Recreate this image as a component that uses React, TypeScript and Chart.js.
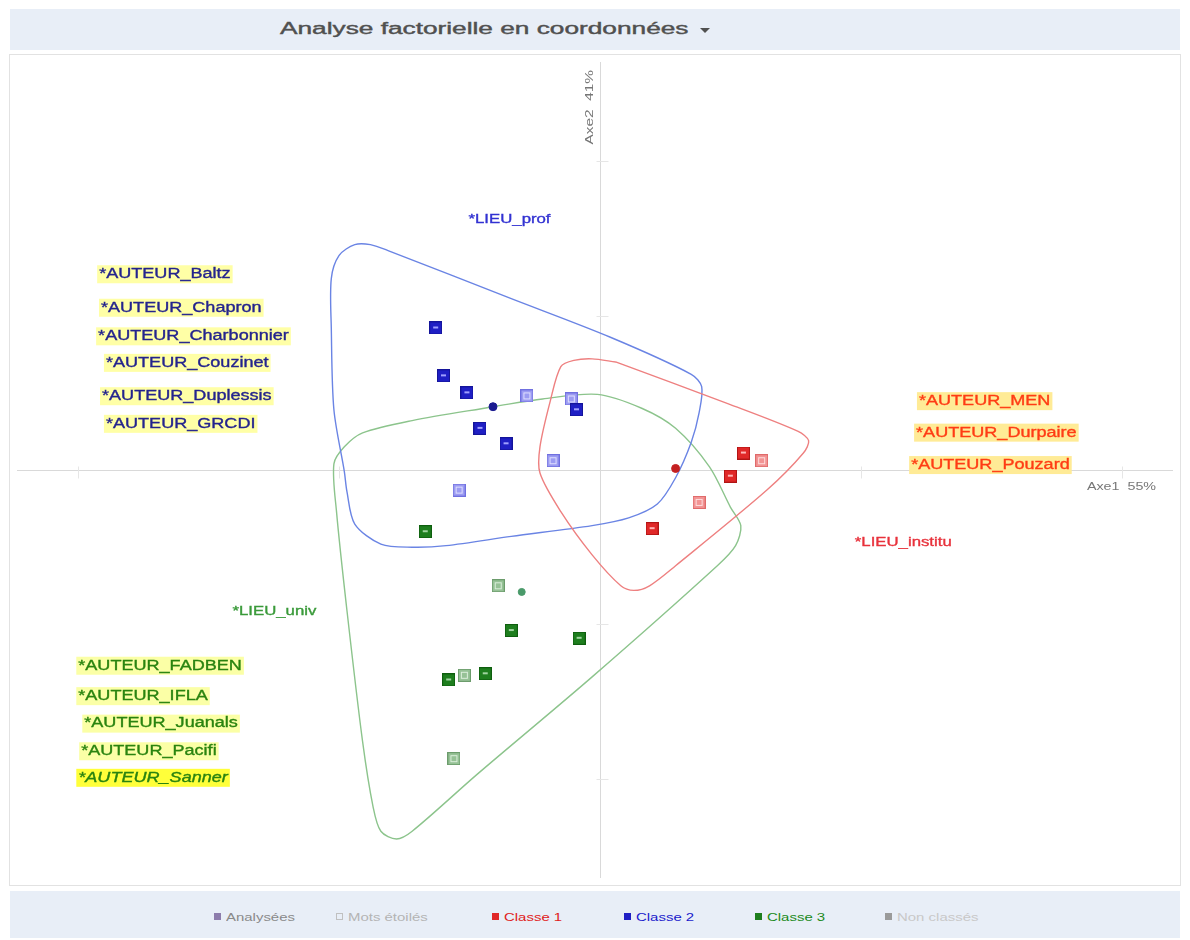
import React, { useEffect, useRef } from "react";
import { Chart, registerables } from "chart.js";

Chart.register(...registerables);

// ---- Axis extents (factor units) ----
const X_MIN = -2.235;
const X_MAX = 2.197;
const Y_MIN = -2.643;
const Y_MAX = 2.643;
const xTicks = [-2, -1, 1, 2];
const yTicks = [-2, -1, 1, 2];
const axisTitles = ["Axe1  55%", "Axe2  41%"];
const axisTitleX = [1.867, -0.038];
const axisTitleY = [-0.108, 2.35];

// ---- Classe 1 (red) ----
const c1DarkX = [0.55, 0.5, 0.2];
const c1DarkY = [0.11, -0.04, -0.38];
const c1LightX = [0.62, 0.38];
const c1LightY = [0.06, -0.21];
const c1Centre = [0.29, 0.01];

// ---- Classe 2 (blue) ----
const c2DarkX = [-0.63, -0.6, -0.51, -0.46, -0.36, -0.09];
const c2DarkY = [0.92, 0.61, 0.5, 0.27, 0.17, 0.39];
const c2LightX = [-0.28, -0.11, -0.18, -0.54];
const c2LightY = [0.48, 0.46, 0.06, -0.13];
const c2Centre = [-0.41, 0.41];

// ---- Classe 3 (green) ----
const c3DarkX = [-0.67, -0.34, -0.08, -0.44, -0.58];
const c3DarkY = [-0.4, -1.04, -1.09, -1.32, -1.36];
const c3LightX = [-0.39, -0.52, -0.56];
const c3LightY = [-0.75, -1.33, -1.87];
const c3Centre = [-0.3, -0.79];

// ---- Hulls ----
const hull1X = [0.06, 0.49, 0.76, 0.8, 0.78, 0.64, 0.29, 0.19, 0.13, 0.08, -0.03, -0.15, -0.23, -0.23, -0.19, -0.15, -0.1, -0.03, 0.06];
const hull1Y = [0.7, 0.43, 0.25, 0.19, 0.11, -0.13, -0.62, -0.75, -0.78, -0.75, -0.55, -0.27, -0.02, 0.15, 0.45, 0.67, 0.71, 0.72, 0.7];
const hull2X = [-0.34, 0.04, 0.35, 0.39, 0.38, 0.35, 0.29, 0.22, 0.11, -0.03, -0.34, -0.59, -0.72, -0.84, -0.94, -0.97, -0.98, -1.02, -1.03, -1.03, -1.0, -0.94, -0.88, -0.81, -0.34];
const hull2Y = [1.11, 0.86, 0.62, 0.54, 0.37, 0.18, -0.05, -0.22, -0.31, -0.36, -0.43, -0.49, -0.5, -0.48, -0.35, -0.14, -0.01, 0.39, 0.92, 1.24, 1.39, 1.46, 1.46, 1.42, 1.11];
const hull3X = [-0.41, -0.22, -0.01, 0.16, 0.29, 0.42, 0.5, 0.54, 0.52, 0.45, -0.03, -0.47, -0.72, -0.78, -0.84, -0.87, -0.91, -0.97, -1.01, -1.02, -0.98, -0.91, -0.72, -0.41];
const hull3Y = [0.41, 0.46, 0.49, 0.4, 0.27, 0.02, -0.24, -0.36, -0.49, -0.62, -1.34, -1.97, -2.34, -2.39, -2.34, -2.18, -1.76, -0.91, -0.27, 0.04, 0.15, 0.24, 0.32, 0.41];

// ---- Starred words (labels) ----
const auteur2 = ["*AUTEUR_Baltz", "*AUTEUR_Chapron", "*AUTEUR_Charbonnier", "*AUTEUR_Couzinet", "*AUTEUR_Duplessis", "*AUTEUR_GRCDI"];
const auteur2X = [-1.92, -1.913, -1.924, -1.894, -1.909, -1.894];
const auteur2Y = [1.268, 1.051, 0.866, 0.694, 0.478, 0.299];
const auteur1 = ["*AUTEUR_MEN", "*AUTEUR_Durpaire", "*AUTEUR_Pouzard"];
const auteur1X = [1.223, 1.212, 1.193];
const auteur1Y = [0.446, 0.242, 0.032];
const auteur3 = ["*AUTEUR_FADBEN", "*AUTEUR_IFLA", "*AUTEUR_Juanals", "*AUTEUR_Pacifi", "*AUTEUR_Sanner"];
const auteur3X = [-2.0, -2.0, -1.977, -1.989, -2.0];
const auteur3Y = [-1.268, -1.465, -1.643, -1.822, -1.994];
const lieux = ["*LIEU_institu", "*LIEU_prof", "*LIEU_univ"];
const lieuxX = [0.977, -0.504, -1.409];
const lieuxY = [-0.471, 1.624, -0.917];

const legendItems = ["Analysées", "Mots étoilés", "Classe 1", "Classe 2", "Classe 3", "Non classés"];

const RED = "#e02828";
const BLUE = "#1f1fc4";
const GREEN = "#1e7e1e";
const TEXT_SX = 1.29;
const FONT = '"Liberation Sans", Arial, sans-serif';

function pts(xs: number[], ys: number[]) {
  return xs.map((x, i) => ({ x, y: ys[i] }));
}

function marker(fill: string, border: string, inner: string, dark: boolean) {
  const c = document.createElement("canvas");
  c.width = 13;
  c.height = 13;
  const g = c.getContext("2d")!;
  g.fillStyle = fill;
  g.fillRect(0, 0, 13, 13);
  g.strokeStyle = border;
  g.lineWidth = 1;
  g.strokeRect(0.5, 0.5, 12, 12);
  if (dark) {
    g.fillStyle = inner;
    g.fillRect(4, 5, 5, 2);
  } else {
    g.strokeStyle = inner;
    g.strokeRect(3.5, 3.5, 6, 6);
  }
  return c;
}

function drawText(
  ctx: CanvasRenderingContext2D,
  text: string,
  x: number,
  y: number,
  font: string,
  color: string,
  bg?: string
) {
  ctx.font = font;
  const w = ctx.measureText(text).width * TEXT_SX;
  if (bg) {
    ctx.fillStyle = bg;
    ctx.fillRect(x - 2, y - 9, w + 4, 18);
  }
  ctx.save();
  ctx.translate(x, y);
  ctx.scale(TEXT_SX, 1);
  ctx.fillStyle = color;
  ctx.strokeStyle = color;
  ctx.lineWidth = 0.35;
  ctx.textBaseline = "middle";
  ctx.textAlign = "left";
  ctx.fillText(text, 0, 0);
  ctx.strokeText(text, 0, 0);
  ctx.restore();
}

const axesPlugin = {
  id: "factorAxes",
  beforeDatasetsDraw(chart: any) {
    const { ctx, chartArea: a, scales } = chart;
    const xs = scales.x;
    const ys = scales.y;
    const x0 = Math.round(xs.getPixelForValue(0)) + 0.5;
    const y0 = Math.round(ys.getPixelForValue(0)) + 0.5;
    ctx.save();
    ctx.strokeStyle = "#d9d9d9";
    ctx.lineWidth = 1;
    ctx.beginPath();
    ctx.moveTo(a.left, y0);
    ctx.lineTo(a.right, y0);
    ctx.moveTo(x0, a.top);
    ctx.lineTo(x0, a.bottom);
    ctx.stroke();
    ctx.strokeStyle = "#e6e6e6";
    ctx.beginPath();
    xTicks.forEach((v) => {
      const p = Math.round(xs.getPixelForValue(v)) + 0.5;
      ctx.moveTo(p, y0 - 4);
      ctx.lineTo(p, y0 + 8);
    });
    yTicks.forEach((v) => {
      const p = Math.round(ys.getPixelForValue(v)) + 0.5;
      ctx.moveTo(x0 - 4, p);
      ctx.lineTo(x0 + 8, p);
    });
    ctx.stroke();
    // axis titles
    ctx.font = `11px ${FONT}`;
    ctx.fillStyle = "#777";
    const ax = xs.getPixelForValue(axisTitleX[0]);
    const ay = ys.getPixelForValue(axisTitleY[0]);
    ctx.save();
    ctx.translate(ax, ay);
    ctx.scale(1.3, 1);
    ctx.textBaseline = "middle";
    ctx.fillText(axisTitles[0], 0, 0);
    ctx.restore();
    const bx = xs.getPixelForValue(axisTitleX[1]);
    const by = ys.getPixelForValue(axisTitleY[1]);
    ctx.save();
    ctx.translate(bx, by);
    ctx.rotate(-Math.PI / 2);
    ctx.scale(1.4, 1);
    ctx.textBaseline = "middle";
    ctx.textAlign = "center";
    ctx.fillText(axisTitles[1], 0, 0);
    ctx.restore();
    ctx.restore();
  },
};

const labelsPlugin = {
  id: "starLabels",
  afterDatasetsDraw(chart: any) {
    const { ctx, scales } = chart;
    const xs = scales.x;
    const ys = scales.y;
    const f = `14px ${FONT}`;
    auteur2.forEach((t, i) =>
      drawText(ctx, t, xs.getPixelForValue(auteur2X[i]), ys.getPixelForValue(auteur2Y[i]), f, "#24248e", "#ffffa6")
    );
    auteur1.forEach((t, i) =>
      drawText(ctx, t, xs.getPixelForValue(auteur1X[i]), ys.getPixelForValue(auteur1Y[i]), f, "#ff3c14", "#ffeb96")
    );
    auteur3.forEach((t, i) => {
      const last = i === auteur3.length - 1;
      drawText(
        ctx,
        t,
        xs.getPixelForValue(auteur3X[i]),
        ys.getPixelForValue(auteur3Y[i]),
        last ? `italic 14px ${FONT}` : f,
        "#2a8410",
        last ? "#ffff3a" : "#fbffa6"
      );
    });
    const lieuColors = ["#e8323c", "#3232d2", "#3a9a3a"];
    lieux.forEach((t, i) =>
      drawText(ctx, t, xs.getPixelForValue(lieuxX[i]), ys.getPixelForValue(lieuxY[i]), `13px ${FONT}`, lieuColors[i])
    );
  },
};

export default function App() {
  const ref = useRef<HTMLCanvasElement>(null);

  useEffect(() => {
    if (!ref.current) return;
    const m1d = marker(RED, "#b01414", "#ffb4b4", true);
    const m1l = marker("#f29494", "#e06a6a", "#ffdede", false);
    const m2d = marker(BLUE, "#14149a", "#a0a0ff", true);
    const m2l = marker("#9c9cf2", "#7070e0", "#e0e0ff", false);
    const m3d = marker(GREEN, "#0e5e0e", "#a0d4a0", true);
    const m3l = marker("#96c296", "#6c9c6c", "#dcefdc", false);

    const ptDs = (label: string, data: any[], style: any) => ({
      label,
      data,
      pointStyle: style,
      pointRadius: 6,
      showLine: false,
    });
    const dotDs = (label: string, c: number[], color: string, r: number) => ({
      label,
      data: [{ x: c[0], y: c[1] }],
      pointStyle: "circle",
      pointRadius: r,
      backgroundColor: color,
      borderColor: color,
      showLine: false,
    });
    const hullDs = (label: string, xs: number[], ys: number[], color: string) => ({
      type: "line" as const,
      label,
      data: pts(xs, ys),
      borderColor: color,
      borderWidth: 1.4,
      pointRadius: 0,
      tension: 0.3,
      fill: false,
    });

    const chart = new Chart(ref.current, {
      type: "scatter",
      data: {
        datasets: [
          ptDs("Classe 1", pts(c1DarkX, c1DarkY), m1d),
          ptDs("Classe 1 (étoilés)", pts(c1LightX, c1LightY), m1l),
          dotDs("Centre 1", c1Centre, "#c42020", 4),
          ptDs("Classe 2", pts(c2DarkX, c2DarkY), m2d),
          ptDs("Classe 2 (étoilés)", pts(c2LightX, c2LightY), m2l),
          dotDs("Centre 2", c2Centre, "#1a1a90", 4),
          ptDs("Classe 3", pts(c3DarkX, c3DarkY), m3d),
          ptDs("Classe 3 (étoilés)", pts(c3LightX, c3LightY), m3l),
          dotDs("Centre 3", c3Centre, "#4a9a6a", 3.5),
          hullDs("Enveloppe 1", hull1X, hull1Y, "#ee8080"),
          hullDs("Enveloppe 2", hull2X, hull2Y, "#6a84e4"),
          hullDs("Enveloppe 3", hull3X, hull3Y, "#8cc48c"),
        ] as any,
      },
      options: {
        responsive: false,
        animation: false,
        layout: { padding: 0 },
        scales: {
          x: { type: "linear", min: X_MIN, max: X_MAX, display: false },
          y: { type: "linear", min: Y_MIN, max: Y_MAX, display: false },
        },
        plugins: {
          legend: { display: false },
          tooltip: { enabled: false },
        },
      },
      plugins: [axesPlugin, labelsPlugin],
    });
    return () => chart.destroy();
  }, []);

  const legendIcon = ["#8c7cac", "", RED, BLUE, GREEN, "#9a9a9a"];
  const legendText = ["#8a8a8a", "#b4b4b4", "#e02020", "#1a1acc", "#1a8a1a", "#c8c8c8"];
  const legendLeft = [214, 336, 492, 624, 755, 885];

  return (
    <div
      style={{
        position: "absolute",
        left: 0,
        top: 0,
        width: 1190,
        height: 940,
        background: "#fff",
        overflow: "hidden",
        fontFamily: FONT,
      }}
    >
      <div style={{ position: "absolute", left: 10, top: 9, width: 1170, height: 41, background: "#e8eef7" }}>
        <span
          style={{
            position: "absolute",
            left: 270,
            top: 11,
            fontSize: 16,
            lineHeight: "18px",
            color: "#505050",
            whiteSpace: "nowrap",
            transform: "scaleX(1.64)",
            transformOrigin: "left center",
            WebkitTextStroke: "0.4px #505050",
          }}
        >
          Analyse factorielle en coordonnées
        </span>
        <span
          style={{
            position: "absolute",
            left: 690,
            top: 19,
            width: 0,
            height: 0,
            borderLeft: "5px solid transparent",
            borderRight: "5px solid transparent",
            borderTop: "5px solid #505050",
          }}
        />
      </div>
      <div
        style={{
          position: "absolute",
          left: 9,
          top: 54,
          width: 1170,
          height: 830,
          border: "1px solid #e2e2e2",
        }}
      />
      <canvas
        ref={ref}
        width={1170}
        height={830}
        style={{ position: "absolute", left: 10, top: 55, width: 1170, height: 830 }}
      />
      <div style={{ position: "absolute", left: 10, top: 891, width: 1170, height: 47, background: "#e8eef7" }}>
        {legendItems.map((t, i) => (
          <div key={t} style={{ position: "absolute", left: legendLeft[i] - 10, top: 19, height: 14, whiteSpace: "nowrap" }}>
            <span
              style={{
                position: "absolute",
                left: 0,
                top: 3,
                width: 7,
                height: 7,
                background: legendIcon[i] || "transparent",
                border: i === 1 ? "1px solid #c0c0c0" : "none",
                boxSizing: "border-box",
              }}
            />
            <span
              style={{
                position: "absolute",
                left: 12,
                top: 0,
                fontSize: 11.5,
                lineHeight: "14px",
                color: legendText[i],
                transform: "scaleX(1.3)",
                transformOrigin: "left center",
              }}
            >
              {t}
            </span>
          </div>
        ))}
      </div>
    </div>
  );
}
